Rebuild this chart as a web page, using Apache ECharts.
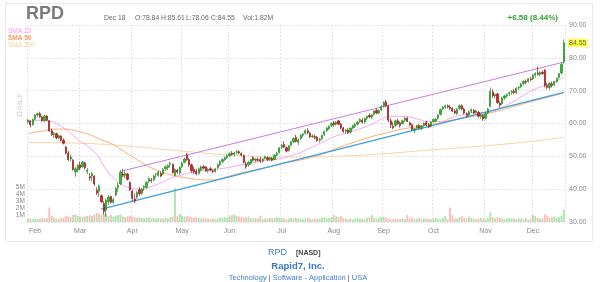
<!DOCTYPE html>
<html><head><meta charset="utf-8">
<script src="https://cdn.jsdelivr.net/npm/echarts@6/dist/echarts.min.js"></script>
<style>html,body{margin:0;padding:0;background:#fff}#c{width:600px;height:282px}</style>
</head><body><div id="c"></div><script>
// trading days of 2020 shown on the chart, per month
const daysJan=[29,30,31];
const daysFeb=[3,4,5,6,7,10,11,12,13,14,18,19,20,21,24,25,26,27,28];
const daysMar=[2,3,4,5,6,9,10,11,12,13,16,17,18,19,20,23,24,25,26,27,30,31];
const daysApr=[1,2,3,6,7,8,9,13,14,15,16,17,20,21,22,23,24,27,28,29,30];
const daysMay=[1,4,5,6,7,8,11,12,13,14,15,18,19,20,21,22,26,27,28,29];
const daysJun=[1,2,3,4,5,8,9,10,11,12,15,16,17,18,19,22,23,24,25,26,29,30];
const daysJul=[1,2,6,7,8,9,10,13,14,15,16,17,20,21,22,23,24,27,28,29,30,31];
const daysAug=[3,4,5,6,7,10,11,12,13,14,17,18,19,20,21,24,25,26,27,28,31];
const daysSep=[1,2,3,4,8,9,10,11,14,15,16,17,18,21,22,23,24,25,28,29,30];
const daysOct=[1,2,5,6,7,8,9,12,13,14,15,16,19,20,21,22,23,26,27,28,29,30];
const daysNov=[2,3,4,5,6,9,10,11,12,13,16,17,18,19,20,23,24,25,27,30];
const daysDec=[1,2,3,4,7,8,9,10,11,14,15,16,17,18];
const monthNames=['Jan','Feb','Mar','Apr','May','Jun','Jul','Aug','Sep','Oct','Nov','Dec'];

// daily [open, high, low, close]
const ohlc=[
// Jan
[60.5,61.4,60.0,61.0],[60.8,61.0,58.8,59.6],[59.6,61.5,59.4,61.2],
// Feb
[61.3,62.9,61.0,62.6],[62.6,63.3,62.0,63.0],[63.0,63.6,61.8,62.0],[62.0,62.3,60.5,60.9],[60.8,62.6,60.4,62.3],[62.3,62.6,60.8,61.0],[60.8,61.0,57.4,57.8],[57.8,58.5,56.2,56.6],[56.6,57.4,55.6,56.9],[56.9,57.2,55.2,55.6],[55.6,56.6,55.2,56.2],[56.2,56.4,54.5,54.9],[54.9,55.5,53.6,54.0],[52.8,53.2,50.6,51.0],[51.0,51.6,48.6,49.0],[49.2,50.6,48.4,49.8],[48.8,49.2,45.6,46.0],[45.2,46.8,43.8,46.2],[45.8,47.6,45.2,47.3],
// Mar
[47.4,48.4,45.8,46.4],[46.8,48.6,46.5,48.3],[48.0,48.3,46.0,46.6],[45.4,46.4,44.6,45.8],[43.8,45.0,42.6,43.4],[44.0,45.2,42.4,44.8],[44.0,44.2,41.0,41.6],[39.6,40.6,38.2,38.8],[39.4,41.4,37.6,41.0],[38.0,38.4,35.8,36.2],[35.6,36.4,32.2,33.2],[33.6,37.2,31.6,36.6],[36.2,38.2,35.2,37.6],[37.8,38.0,35.6,36.0],[36.0,37.4,35.4,36.8],[38.2,40.6,37.8,40.2],[40.4,42.0,39.2,41.2],[41.6,45.8,41.2,45.2],[44.6,46.2,43.6,44.2],[44.2,45.6,43.4,44.8],[44.6,45.0,42.6,43.0],[42.0,42.4,39.4,39.8],
// Apr
[39.4,39.8,36.4,37.2],[37.0,38.6,35.8,36.4],[37.6,39.4,37.0,39.0],[39.8,40.6,38.0,38.6],[38.8,40.4,38.2,40.0],[40.4,41.2,39.4,40.8],[40.6,42.4,40.2,42.0],[42.4,43.6,41.8,43.2],[42.8,43.4,42.0,42.6],[42.8,44.4,42.4,44.0],[44.4,45.0,43.4,44.4],[44.2,45.6,43.8,45.2],[44.8,45.4,43.6,44.0],[44.6,46.4,44.4,46.0],[46.2,47.2,45.6,46.8],[46.6,47.6,45.8,47.2],[47.6,48.4,46.6,47.8],[47.6,47.8,44.8,45.0],[44.2,46.4,43.8,46.0],[45.8,46.2,44.6,45.2],[45.0,47.0,44.4,46.6],
// May
[46.8,48.4,46.4,48.0],[48.2,49.6,47.8,49.2],[50.4,51.0,48.6,49.0],[49.0,49.4,46.8,47.4],[47.4,47.8,45.0,45.6],[46.0,46.8,44.6,45.2],[45.4,46.2,44.2,44.6],[44.8,46.6,44.4,46.2],[45.8,47.2,45.4,46.8],[46.8,47.4,46.0,46.4],[46.8,47.0,45.2,45.6],[45.6,46.4,45.0,46.0],[46.2,46.8,45.4,45.8],[45.6,46.0,44.8,45.4],[45.4,46.4,45.0,46.2],[46.6,47.8,46.2,47.4],[47.4,48.8,47.0,48.4],[48.4,49.4,47.8,49.0],[49.0,50.0,48.6,49.6],[49.6,50.6,49.2,50.2],
// Jun
[50.2,51.2,49.8,50.8],[51.0,51.6,50.2,50.6],[50.6,51.4,50.0,51.0],[51.2,52.0,50.6,51.4],[51.4,51.8,50.6,51.0],[50.8,51.2,50.0,50.4],[50.2,50.6,47.8,48.2],[47.6,48.4,46.2,46.8],[47.4,48.6,46.8,48.2],[47.8,49.2,47.4,49.0],[49.6,50.0,48.4,48.8],[48.8,49.4,48.2,49.2],[49.0,49.6,48.4,48.8],[49.0,49.8,48.0,48.6],[48.6,49.4,48.0,49.2],[49.4,50.2,49.0,49.8],[49.6,50.0,48.6,49.0],[49.0,49.8,48.6,49.6],[49.4,49.8,48.4,48.8],[49.0,50.6,48.8,50.4],[50.4,51.4,50.0,51.0],[51.2,52.8,50.8,52.6],
// Jul
[52.8,53.8,52.2,53.4],[53.6,54.6,52.6,52.8],[52.6,53.0,51.2,51.6],[51.8,53.4,51.4,53.2],[53.4,54.8,53.0,54.4],[54.4,55.8,54.0,55.4],[55.8,56.6,54.2,54.6],[54.2,55.4,53.4,55.0],[55.4,56.8,55.0,56.4],[56.4,57.2,55.8,56.8],[57.0,58.2,56.6,57.8],[57.8,58.6,56.8,57.2],[57.0,57.4,55.6,56.0],[56.0,56.6,55.6,56.2],[56.0,56.6,55.2,55.6],[55.8,56.2,54.4,54.8],[54.8,55.6,54.2,55.2],[55.4,56.6,55.0,56.4],[56.6,57.8,56.2,57.6],[57.8,59.0,57.4,58.6],[58.4,59.4,58.0,59.2],[59.4,60.4,59.0,60.0],
// Aug
[60.2,60.8,59.0,59.6],[59.8,60.8,59.4,60.4],[60.8,61.0,59.6,59.8],[59.8,60.2,58.2,58.6],[58.6,59.0,57.2,57.6],[57.6,58.4,57.0,58.0],[58.0,58.6,56.8,57.2],[57.4,58.8,57.0,58.6],[58.6,59.6,58.2,59.4],[59.2,60.2,58.6,59.8],[59.8,60.8,59.4,60.4],[60.6,61.6,60.2,61.2],[61.0,61.6,60.0,60.4],[60.4,61.8,60.0,61.6],[61.6,62.4,61.0,62.2],[62.4,63.0,61.6,62.0],[62.0,62.8,61.4,62.6],[62.8,64.0,62.4,63.8],[64.0,64.6,62.8,63.2],[63.2,64.2,62.8,64.0],[64.2,65.6,63.8,65.2],
// Sep
[65.4,66.8,64.8,66.4],[66.6,67.2,65.0,65.4],[65.2,65.6,60.4,61.0],[60.8,61.6,58.6,59.6],[59.2,60.4,58.2,58.8],[59.4,61.2,59.0,60.8],[60.8,61.4,59.6,60.0],[60.2,60.6,58.8,59.4],[60.0,61.2,59.6,60.8],[61.0,62.0,60.4,61.6],[61.6,62.0,60.4,60.6],[60.2,60.6,59.2,59.6],[59.6,60.0,57.8,58.2],[58.0,58.6,57.0,58.4],[58.6,59.6,58.2,59.4],[59.4,59.8,58.2,58.6],[58.4,59.6,58.0,59.2],[59.4,60.4,59.0,60.0],[60.4,60.8,59.2,59.6],[59.6,60.2,58.6,59.0],[59.2,60.6,58.8,60.4],
// Oct
[60.6,61.6,60.2,61.2],[60.8,61.6,60.4,61.4],[61.6,62.8,61.2,62.6],[62.8,64.6,62.4,64.2],[64.4,65.4,64.0,65.0],[65.0,65.8,64.4,65.4],[65.4,65.8,64.6,65.0],[65.0,65.6,64.2,64.6],[64.6,65.0,63.4,63.8],[63.8,64.4,62.8,63.2],[63.0,64.6,62.6,64.4],[64.6,65.8,64.2,65.4],[65.4,65.8,64.0,64.4],[64.4,64.8,62.8,63.2],[63.0,63.4,61.8,62.4],[62.6,64.0,62.2,63.6],[63.8,64.6,63.2,64.2],[64.0,64.4,62.8,63.2],[63.4,64.2,63.0,63.8],[63.4,63.8,61.8,62.2],[62.2,63.0,61.4,62.6],[62.4,62.8,60.8,61.4],
// Nov
[61.6,63.4,61.2,63.0],[63.2,64.8,62.8,64.4],[65.2,71.0,65.0,69.8],[69.6,70.4,67.8,68.4],[68.4,69.2,67.6,68.8],[69.0,69.4,66.0,66.4],[66.2,66.8,64.8,65.6],[66.0,68.2,65.6,67.8],[67.8,68.8,67.2,68.4],[68.4,69.2,67.8,68.8],[69.0,69.8,68.4,69.4],[69.4,70.2,68.8,69.8],[69.8,70.6,69.0,69.4],[69.4,71.0,69.0,70.8],[70.8,71.4,70.2,71.0],[71.2,72.4,70.8,72.0],[72.2,73.2,71.6,72.8],[72.8,73.4,72.0,72.6],[72.8,73.8,72.4,73.6],[73.6,74.2,72.8,73.4],
// Dec
[73.6,75.0,73.2,74.8],[74.8,75.6,74.0,75.2],[75.4,77.4,74.6,75.0],[75.0,76.0,74.4,75.6],[75.6,76.2,74.8,75.2],[76.2,76.6,71.0,71.6],[71.6,72.4,70.4,71.0],[71.0,72.6,70.2,72.2],[72.0,72.8,71.0,71.6],[71.8,73.0,71.4,72.8],[72.8,74.0,72.4,73.8],[74.0,75.4,73.6,75.2],[75.4,78.6,75.0,77.97],[78.84,85.61,78.06,84.55]
];

// daily volume, millions
const volumes=[
0.45,0.5,0.4,
0.5,0.45,0.5,0.6,0.5,0.55,2.1,0.9,0.6,0.5,0.4,0.55,0.6,0.9,0.8,0.7,1.0,1.1,0.9,
0.8,0.7,0.8,0.9,1.0,0.9,1.1,1.3,1.2,1.0,1.1,1.2,0.9,1.0,0.8,0.9,1.0,1.1,0.8,0.7,0.8,0.9,
0.8,0.7,0.6,0.7,0.6,0.5,0.6,0.7,0.5,0.6,0.5,0.6,0.5,0.5,0.6,0.5,0.7,0.8,4.9,0.9,1.2,
0.9,0.8,0.9,0.8,0.7,0.6,0.7,0.6,0.5,0.6,0.5,0.5,0.4,0.5,0.4,0.5,0.6,0.6,0.7,0.6,
0.9,1.0,1.1,0.9,0.8,0.7,0.6,0.7,0.8,0.6,0.5,0.6,0.5,0.9,0.4,0.5,0.5,0.6,0.5,0.6,0.7,0.6,
0.5,0.5,0.4,0.5,0.6,0.5,0.6,0.5,0.5,0.4,0.5,0.6,0.5,0.4,0.5,0.4,0.5,0.6,0.7,0.5,0.6,0.7,
1.0,0.8,0.7,0.9,0.6,0.5,0.4,0.5,0.4,0.5,0.6,0.5,0.5,0.4,0.6,0.7,1.0,0.6,0.5,0.6,0.7,
0.8,0.6,0.5,0.4,0.4,0.5,0.4,0.4,0.5,0.4,1.0,0.5,0.6,0.4,0.5,0.6,0.4,0.5,0.4,0.5,0.4,
0.5,0.6,0.5,0.4,0.6,0.9,0.4,2.1,1.0,0.5,0.5,0.7,0.9,0.6,0.5,0.8,0.6,0.5,0.4,0.5,0.6,0.5,
0.4,0.6,1.4,0.7,0.5,0.7,0.6,0.5,0.4,0.5,0.6,0.5,0.5,0.4,0.5,0.5,0.4,0.6,0.3,0.5,
1.0,0.9,0.6,0.5,0.5,1.1,0.9,0.6,0.7,0.8,0.6,0.7,0.9,1.82
];

// moving averages (date, value)
const sma20=[['2020-01-29',60.4],['2020-02-05',61.0],['2020-02-11',60.8],['2020-02-18',59.6],['2020-02-24',57.6],['2020-02-28',55.2],['2020-03-05',53.2],['2020-03-11',50.6],['2020-03-16',47.0],['2020-03-20',43.4],['2020-03-26',41.2],['2020-04-01',40.2],['2020-04-07',40.0],['2020-04-14',40.8],['2020-04-21',42.2],['2020-04-27',43.6],['2020-05-04',44.6],['2020-05-11',45.4],['2020-05-18',45.8],['2020-05-26',46.2],['2020-06-02',46.8],['2020-06-09',47.6],['2020-06-16',48.2],['2020-06-23',48.8],['2020-06-30',49.2],['2020-07-07',50.0],['2020-07-14',51.2],['2020-07-21',52.8],['2020-07-28',54.6],['2020-08-04',56.2],['2020-08-11',57.2],['2020-08-18',58.4],['2020-08-25',59.8],['2020-09-01',61.6],['2020-09-08',62.2],['2020-09-15',62.2],['2020-09-22',61.4],['2020-09-29',60.6],['2020-10-06',60.6],['2020-10-13',61.8],['2020-10-20',62.8],['2020-10-27',63.4],['2020-11-03',63.4],['2020-11-10',64.6],['2020-11-17',66.4],['2020-11-24',68.6],['2020-12-01',70.2],['2020-12-08',71.6],['2020-12-14',72.6],['2020-12-18',74.2]];
const sma50=[['2020-01-29',57.0],['2020-02-07',57.8],['2020-02-14',58.3],['2020-02-21',58.3],['2020-02-28',57.6],['2020-03-06',56.6],['2020-03-13',55.0],['2020-03-20',53.6],['2020-03-27',51.2],['2020-04-03',49.0],['2020-04-09',47.2],['2020-04-17',45.6],['2020-04-24',44.4],['2020-05-01',43.6],['2020-05-08',43.1],['2020-05-15',42.8],['2020-05-22',43.0],['2020-05-29',43.8],['2020-06-05',44.8],['2020-06-12',45.6],['2020-06-19',46.4],['2020-06-26',47.2],['2020-07-02',48.0],['2020-07-10',48.6],['2020-07-17',49.4],['2020-07-24',50.4],['2020-07-31',51.8],['2020-08-07',53.2],['2020-08-14',54.4],['2020-08-21',55.6],['2020-08-28',56.6],['2020-09-04',57.4],['2020-09-11',58.2],['2020-09-18',58.8],['2020-09-25',59.4],['2020-10-02',60.0],['2020-10-09',60.8],['2020-10-16',61.4],['2020-10-23',62.1],['2020-10-30',62.8],['2020-11-06',63.6],['2020-11-13',64.6],['2020-11-20',65.6],['2020-11-27',66.4],['2020-12-04',67.4],['2020-12-11',68.3],['2020-12-18',69.3]];
const sma200=[['2020-01-29',54.2],['2020-03-02',54.0],['2020-04-01',53.0],['2020-05-01',51.6],['2020-06-01',50.4],['2020-07-01',49.8],['2020-08-03',50.0],['2020-09-01',50.8],['2020-10-01',52.0],['2020-11-02',53.2],['2020-12-01',54.6],['2020-12-18',55.8]];
// trend channel end points
const upperTrend=[['2020-03-26',45.6],['2020-12-18',78.7]];
const lowerTrend=[['2020-03-13',33.9],['2020-12-18',69.5]];
const priceTicks=[30,40,50,60,70,80,90];

const pad=n=>String(n).padStart(2,'0');
const dates=[];const monthStart={};
[daysJan,daysFeb,daysMar,daysApr,daysMay,daysJun,daysJul,daysAug,daysSep,daysOct,daysNov,daysDec].forEach((arr,mi)=>{
  arr.forEach((d,k)=>{ if(k===0&&mi>0) monthStart[dates.length]=monthNames[mi]; dates.push('2020-'+pad(mi+1)+'-'+pad(d)); });
});
const idx=p=>p.map(([d,v])=>[dates.indexOf(d),v]);

const up='#2fbf2f', dn='#e02222';
const candles=ohlc.map(([o,h,l,c])=>[o,c,l,h]);
const vols=volumes.map((v,i)=>({value:v,itemStyle:{color: ohlc[i][3]>=ohlc[i][0]?'rgba(90,200,90,0.5)':'rgba(245,120,120,0.5)'}}));

const FF='"Liberation Sans", Arial, sans-serif';
const chart=echarts.init(document.getElementById('c'),null,{renderer:'canvas'});
const gridLine={lineStyle:{color:'#dcdcdc',type:[1.5,2],width:1}};
chart.setOption({
  animation:false,
  grid:{left:26.8,right:35,top:25,bottom:60},
  xAxis:{type:'category',data:dates,boundaryGap:true,
    axisLine:{show:false},axisTick:{show:false},
    axisLabel:{interval:(i)=>monthStart[i]!==undefined,formatter:(v,i)=>monthStart[i]||'',fontSize:7,color:'#888',margin:6,fontFamily:FF},
    splitLine:{show:true,interval:(i)=>i===0||(monthStart[i]!==undefined&&monthStart[i]!=='Feb'),...gridLine}},
  yAxis:[
    {type:'value',position:'right',min:30,max:90,interval:10,
      axisLine:{show:false},axisTick:{show:false},
      axisLabel:{formatter:v=>priceTicks.includes(v)?v.toFixed(2):'',fontSize:7,color:'#888',margin:4,fontFamily:FF},
      splitLine:{show:true,...gridLine}},
    {type:'value',position:'left',min:0,max:28.5,interval:1,
      axisLine:{show:false},axisTick:{show:false},splitLine:{show:false},
      axisLabel:{formatter:v=>(v>=1&&v<=5)?v+'M':'',fontSize:6.5,color:'#888',margin:2,fontFamily:FF}}
  ],
  series:[
    {type:'bar',yAxisIndex:1,data:vols,barWidth:'75%',z:1},
    {name:'SMA 200',type:'line',data:idx(sma200),smooth:0.4,symbol:'none',lineStyle:{color:'#f4d6a6',width:1},z:2},
    {name:'SMA 50',type:'line',data:idx(sma50),smooth:0.4,symbol:'none',lineStyle:{color:'#ffab70',width:1},z:2},
    {name:'SMA 20',type:'line',data:idx(sma20),smooth:0.4,symbol:'none',lineStyle:{color:'#f5a8e8',width:1},z:2},
    {name:'upper',type:'line',data:idx(upperTrend),symbol:'none',lineStyle:{color:'#c77ddf',width:1},z:3},
    {name:'lower',type:'line',data:idx(lowerTrend),symbol:'none',lineStyle:{color:'#3d9fe0',width:1.2},z:3},
    {type:'candlestick',data:candles,barWidth:'72%',z:4,
      itemStyle:{color:up,color0:dn,borderColor:'#1f8a1f',borderColor0:'#901515',borderWidth:0.7},
      markLine:{silent:true,symbol:['none','none'],data:[{yAxis:84.55}],lineStyle:{color:'transparent',width:0},
        label:{position:'end',formatter:'84.55',backgroundColor:'#ffff3a',color:'#666',fontSize:7,padding:[1,1,0,1],distance:3,fontFamily:FF}}}
  ],
  graphic:[
    {type:'rect',shape:{x:5.5,y:3.5,width:587,height:238},style:{fill:'none',stroke:'#e8e8e8',lineWidth:1},silent:true},
    {type:'text',x:26,y:14,style:{text:'RPD',font:'bold 18px '+FF,fill:'#7a7a7a',textVerticalAlign:'middle'}},
    {type:'text',x:104,y:18.5,style:{text:'Dec 18',font:'6.8px '+FF,fill:'#666',textVerticalAlign:'middle'}},
    {type:'text',x:135,y:18.5,style:{text:'O:78.84',font:'6.8px '+FF,fill:'#666',textVerticalAlign:'middle'}},
    {type:'text',x:161,y:18.5,style:{text:'H:85.61',font:'6.8px '+FF,fill:'#666',textVerticalAlign:'middle'}},
    {type:'text',x:186,y:18.5,style:{text:'L:78.06',font:'6.8px '+FF,fill:'#666',textVerticalAlign:'middle'}},
    {type:'text',x:211,y:18.5,style:{text:'C:84.55',font:'6.8px '+FF,fill:'#666',textVerticalAlign:'middle'}},
    {type:'text',x:243,y:18.5,style:{text:'Vol:1.82M',font:'6.8px '+FF,fill:'#666',textVerticalAlign:'middle'}},
    {type:'text',x:558,y:18,style:{text:'+6.58 (8.44%)',font:'bold 8px '+FF,fill:'#2f9f2f',textAlign:'right',textVerticalAlign:'middle'}},
    {type:'text',x:8,y:31,style:{text:'SMA 20',font:'6.5px '+FF,fill:'#f29ce2',textVerticalAlign:'middle'}},
    {type:'text',x:8,y:38,style:{text:'SMA 50',font:'bold 6.5px '+FF,fill:'#ff9a58',textVerticalAlign:'middle'}},
    {type:'text',x:8,y:45,style:{text:'SMA 200',font:'6.5px '+FF,fill:'#f0d29e',textVerticalAlign:'middle'}},
    {type:'text',x:19.5,y:105,rotation:Math.PI/2,style:{text:'DAILY',font:'bold 8px '+FF,fill:'#dadada',textAlign:'center',textVerticalAlign:'middle'}},
    {type:'text',x:287,y:253,style:{text:'RPD',font:'9px '+FF,fill:'#3f7fc8',textAlign:'right',textVerticalAlign:'middle'}},
    {type:'text',x:296,y:253,style:{text:'[NASD]',font:'bold 7px '+FF,fill:'#444',textVerticalAlign:'middle'}},
    {type:'text',x:298,y:266,style:{text:'Rapid7, Inc.',font:'bold 9.5px '+FF,fill:'#3a78c4',textAlign:'center',textVerticalAlign:'middle'}},
    {type:'text',x:298,y:278,style:{text:'{a|Technology} {s||} {a|Software - Application} {s||} {a|USA}',font:'7.5px '+FF,textAlign:'center',textVerticalAlign:'middle',
      rich:{a:{fill:'#3f7fc8',font:'7.5px '+FF},s:{fill:'#555',font:'7.5px '+FF}}}}
  ]
});
</script></body></html>
